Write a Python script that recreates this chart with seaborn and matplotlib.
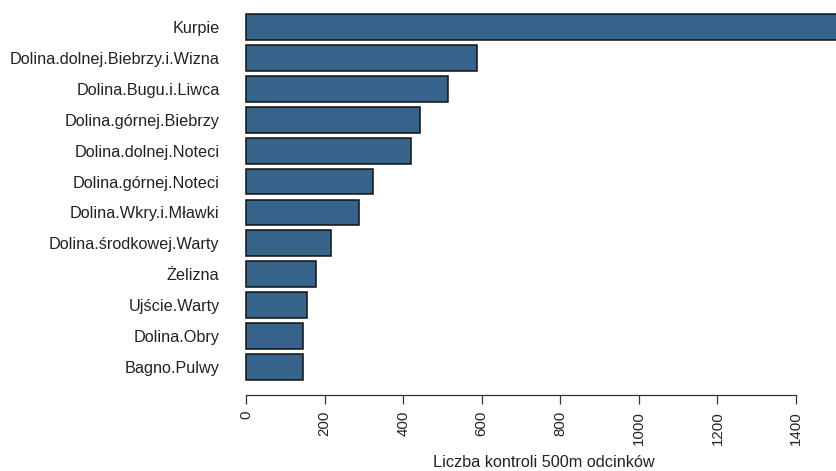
import matplotlib
matplotlib.use("Agg")
import matplotlib.pyplot as plt
import seaborn as sns
import pandas as pd

# Number of 500 m transect surveys per area
areas = [
    "Kurpie",
    "Dolina.dolnej.Biebrzy.i.Wizna",
    "Dolina.Bugu.i.Liwca",
    "Dolina.górnej.Biebrzy",
    "Dolina.dolnej.Noteci",
    "Dolina.górnej.Noteci",
    "Dolina.Wkry.i.Mławki",
    "Dolina.środkowej.Warty",
    "Żelizna",
    "Ujście.Warty",
    "Dolina.Obry",
    "Bagno.Pulwy",
]
counts = [1560, 589, 515, 444, 421, 323, 287, 216, 179, 155, 145, 144]
x_ticks = [0, 200, 400, 600, 800, 1000, 1200, 1400]
x_label = "Liczba kontroli 500m odcinków"

df = pd.DataFrame({"obszar": areas, "liczba": counts})

sns.set_theme(style="white")
plt.rcParams["font.family"] = ["Liberation Sans", "DejaVu Sans"]

W, H = 836, 471
fig = plt.figure(figsize=(W / 100, H / 100), dpi=100)
# axes box: x from 0 to 1400, bottom spine is the x axis line
left, right = 246, 796
top, bottom = 0, 395
ax = fig.add_axes([left / W, 1 - bottom / H, (right - left) / W, (bottom - top) / H])

sns.barplot(data=df, x="liczba", y="obszar", orient="h", color="#36648B",
            saturation=1, edgecolor="#111111", linewidth=1.1, width=0.833, ax=ax)
for p in ax.patches:
    p.set_clip_on(False)

step = 30.9
ax.set_xlim(0, 1400)
ax.set_ylim(11 + (bottom - 367) / step, -27 / step)

for s in ["top", "right", "left"]:
    ax.spines[s].set_visible(False)
ax.spines["bottom"].set_color("#333333")
ax.spines["bottom"].set_linewidth(0.9)

fs = 11.7
ax.set_xticks(x_ticks)
ax.set_xticklabels([str(t) for t in x_ticks], rotation=90, fontsize=10.8, color="#222222")
ax.tick_params(axis="x", bottom=True, length=6.5, width=0.9, color="#333333", pad=5)
ax.tick_params(axis="y", left=False, length=0, pad=19, labelsize=fs, labelcolor="#222222")
ax.set_ylabel("")
ax.set_xlabel(x_label, fontsize=fs, color="#222222")
# the axis title sits centred on the full plotting region, a bit right of the axis midpoint
ax.xaxis.set_label_coords(0.542, -0.152)

fig.savefig("out.png", dpi=100)
